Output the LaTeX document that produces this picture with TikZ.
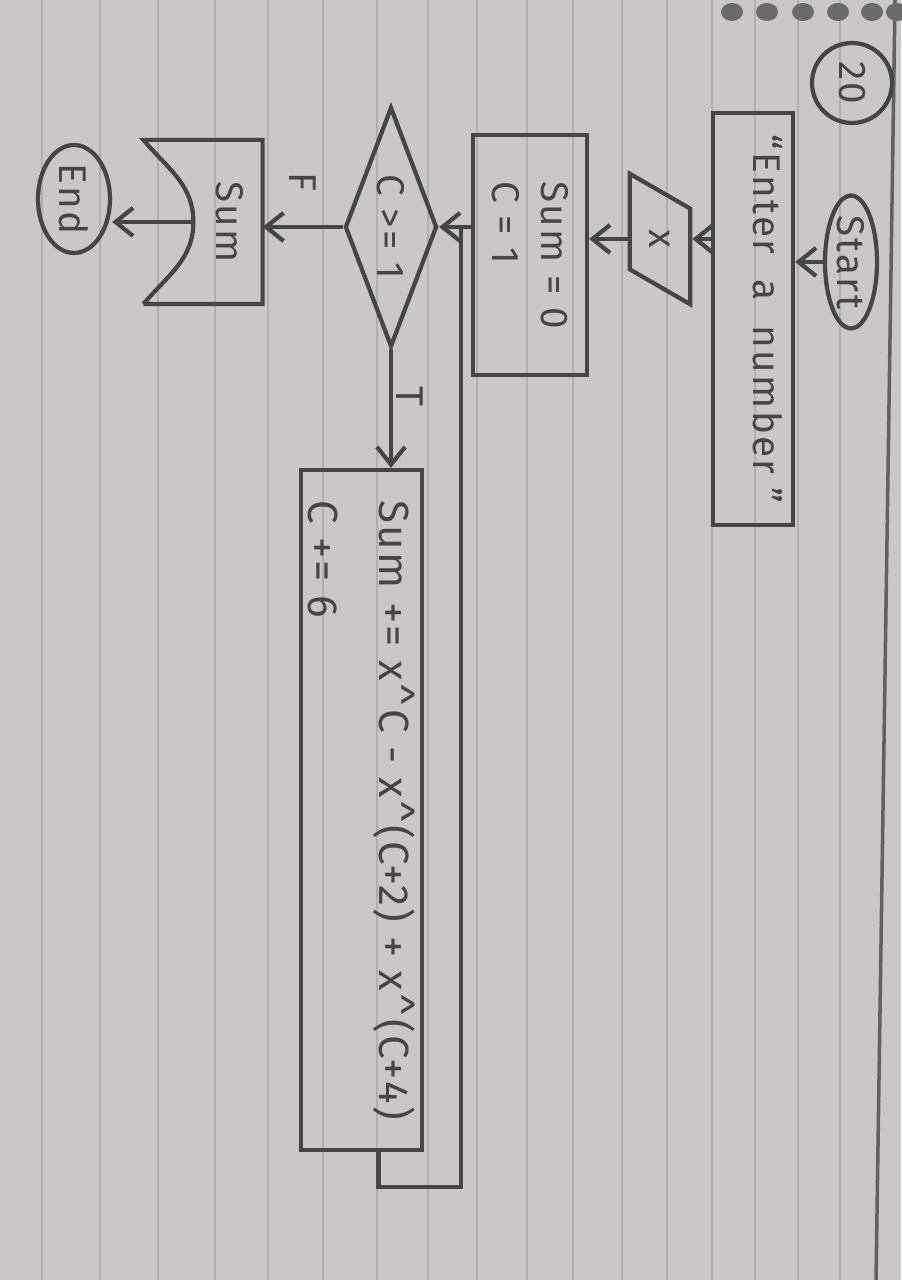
\documentclass[tikz,border=0pt]{standalone}
\usepackage{fontspec}
\setmainfont{Fira Sans}
\newfontfamily\handfont[LetterSpace=6]{Fira Sans}
\usetikzlibrary{shapes.geometric,arrows.meta}
\definecolor{paper}{RGB}{203,199,198}
\definecolor{ruling}{RGB}{178,174,174}
\definecolor{pencil}{RGB}{70,68,68}
\tikzset{
  pen/.style = {draw=pencil, line width=1.2pt, text=pencil, rotate=-90,
    font=\handfont\fontsize{11}{14}\selectfont},
  terminal/.style = {pen, ellipse, inner sep=0pt},
  block/.style = {pen, rectangle, inner sep=2pt},
  link/.style = {draw=pencil, line width=1.2pt},
  flow/.style = {link, -{Straight Barb[length=5pt,width=8pt]}},
  tag/.style = {text=pencil, rotate=-90, font=\handfont\fontsize{11}{14}\selectfont, inner sep=1pt}
}

\begin{document}
\begin{tikzpicture}
  \useasboundingbox (0,0) rectangle (9.01,-12.80);
  % the notebook page
  \fill[paper] (0,0) rectangle (9.01,-12.80);
  \foreach \X in {0.42,1.00,1.58,2.15,2.68,3.23,3.77,4.28,4.77,5.27,5.73,6.22,6.67,7.12,7.55,7.98,8.40} {%
    \draw[ruling, line width=0.5pt] (\X,0) -- (\X,-12.80);
  }
  \draw[pencil!85, line width=1pt] (8.95,0) -- (8.76,-12.80);
  \foreach \X in {7.32,7.67,8.03,8.38,8.72,8.97} {%
    \fill[pencil!80] (\X,-0.12) ellipse (0.11 and 0.09);
  }

  \node[pen, circle, minimum size=0.8cm, inner sep=0pt] (page) at (8.52,-0.83) {20};
  \node[terminal, minimum width=1.3cm, minimum height=0.52cm] (start) at (8.51,-2.62) {Start};
  \node[block, minimum width=4.12cm, minimum height=0.8cm, text depth=0.3cm] (enter) at (7.53,-3.19) {“Enter \ a \ number ”};
  \node[pen, trapezium, trapezium left angle=60, trapezium right angle=120,
    inner xsep=0.21cm, inner ysep=0.2cm] (xin) at (6.60,-2.39) {x};
  \node[block, minimum width=2.4cm, minimum height=1.14cm, align=left] (init) at (5.30,-2.55) {Sum = 0\\C = 1};
  \node[pen, diamond, aspect=2.6, minimum width=2.4cm, minimum height=0.92cm, inner sep=0pt] (test) at (3.91,-2.27) {C >= 1};
  \node[block, minimum width=6.8cm, minimum height=1.13cm, align=left,
    font=\handfont\fontsize{12}{20}\selectfont] (body) at (3.615,-8.10) {Sum += x\^{}C - x\^{}(C+2) + x\^{}(C+4)\\C += 6};
  \node[pen, draw=none, minimum width=1.6cm, minimum height=1.15cm, text depth=0.55cm] (show) at (2.03,-2.22) {Sum};
  \node[terminal, minimum width=1.08cm, minimum height=0.72cm] (end) at (0.74,-1.99) {End};

  % display symbol with its wavy edge
  \coordinate (dip) at ([xshift=0.5cm]show.south);
  \draw[link] (show.south east) -- (show.north east) -- (show.north west) -- (show.south west)
    to[out=-50,in=90] (dip) to[out=-90,in=50] (show.south east);

  \draw[flow] (start.south) -- (start.south -| enter.north);
  \draw[flow] (xin.north -| enter.south) -- (xin.north);
  \draw[flow] (xin.south) -- (xin.south -| init.north);
  \coordinate (merge) at ([xshift=-0.1cm]init.south |- test.north);
  \draw[flow] (init.south |- test.north) -- (test.north);
  \draw[flow] (test.east) -- node[tag, pos=0.4, anchor=south] {T} (test.east |- body.west);
  \draw[flow] (test.south) -- node[tag, pos=0.5, anchor=east, xshift=-0.3cm] {F} (test.south -| show.north);
  \draw[flow] (dip) -- (dip -| end.north);
  \draw[link] ([xshift=0.17cm]body.east) -- ++(0,-0.35) -| (merge);
\end{tikzpicture}
\end{document}
